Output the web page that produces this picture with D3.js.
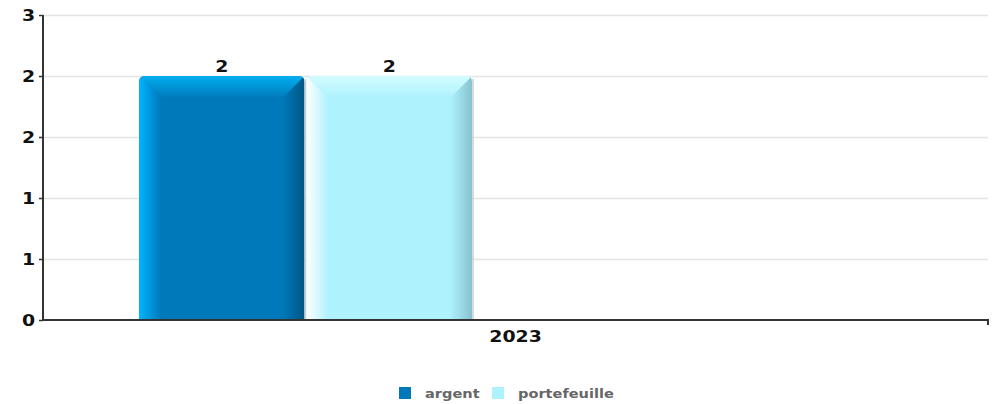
<!DOCTYPE html>
<html>
<head>
<meta charset="utf-8">
<script src="https://cdn.jsdelivr.net/npm/d3@7"></script>
<style>
  html, body { margin: 0; padding: 0; background: #fff; }
  svg { display: block; font-family: "DejaVu Sans", sans-serif; }
</style>
</head>
<body>
<svg id="chart" width="994" height="404"></svg>
<script>
// Data
const categories = ["2023"];
const seriesNames = ["argent", "portefeuille"];
const argent = [2];
const portefeuille = [2];
const yTicks = [0, 0.5, 1, 1.5, 2, 2.5];

const seriesValues = { argent, portefeuille };

// Bar styling: base, light edge, dark edge, top bevel
const palette = {
  argent:       { base: "#0079bb", light: "#00b4ff", dark: "#005683", top: "#00aff0" },
  portefeuille: { base: "#aef2fd", light: "#ffffff", dark: "#86c3cf", top: "#d2fdff" }
};

const svg = d3.select("#chart");
const plot = { left: 43, right: 988, top: 15, bottom: 320 };

const y = d3.scaleLinear().domain([0, 2.5]).range([plot.bottom, plot.top]);
const x0 = d3.scaleBand().domain(categories).range([plot.left, plot.right]);
const x1 = d3.scaleBand().domain(seriesNames).range([139, 472]).paddingInner(0.012);

const fmt = v => String(Math.round(v));

// Widen glyphs horizontally around their anchor x
function stretch(sel, sx) {
  sel.each(function() {
    const t = d3.select(this);
    const x = +t.attr("x") || 0;
    t.attr("transform", `translate(${x * (1 - sx)},0) scale(${sx},1)`);
  });
}

// Gridlines
svg.append("g")
  .selectAll("line")
  .data(yTicks.filter(t => t > 0))
  .join("line")
  .attr("x1", plot.left).attr("x2", plot.right)
  .attr("y1", d => y(d) + 0.5).attr("y2", d => y(d) + 0.5)
  .attr("stroke", "#e4e4e4").attr("stroke-width", 1.5);

// Gradients
const defs = svg.append("defs");
seriesNames.forEach(s => {
  const p = palette[s];
  const gl = defs.append("linearGradient").attr("id", "gl-" + s)
    .attr("x1", 0).attr("x2", 1).attr("y1", 0).attr("y2", 0);
  gl.append("stop").attr("offset", 0).attr("stop-color", p.light);
  gl.append("stop").attr("offset", 1).attr("stop-color", p.base);
  const gr = defs.append("linearGradient").attr("id", "gr-" + s)
    .attr("x1", 0).attr("x2", 1).attr("y1", 0).attr("y2", 0);
  gr.append("stop").attr("offset", 0).attr("stop-color", p.base);
  gr.append("stop").attr("offset", 1).attr("stop-color", p.dark);
  const gt = defs.append("linearGradient").attr("id", "gt-" + s)
    .attr("x1", 0).attr("x2", 0).attr("y1", 0).attr("y2", 1);
  gt.append("stop").attr("offset", 0).attr("stop-color", p.top);
  gt.append("stop").attr("offset", 1).attr("stop-color", p.base);
});

// Bars with bevelled edges
const bev = 22;
const barData = [];
categories.forEach((c, i) => {
  seriesNames.forEach(s => {
    barData.push({ cat: c, series: s, value: seriesValues[s][i] });
  });
});

const bars = svg.append("g").selectAll("g").data(barData).join("g");

bars.each(function(d, i) {
  const g = d3.select(this);
  const xL = x0(d.cat) - plot.left + x1(d.series);
  const w = x1.bandwidth();
  const xR = xL + w;
  const yT = y(d.value);
  const yB = y(0);
  const clipId = "clip-" + i;
  defs.append("clipPath").attr("id", clipId)
    .append("path")
    .attr("d", `M${xL},${yB} L${xL},${yT + 6} Q${xL},${yT} ${xL + 6},${yT} L${xR - 6},${yT} Q${xR},${yT} ${xR},${yT + 6} L${xR},${yB} Z`);
  const inner = g.append("g").attr("clip-path", `url(#${clipId})`);
  inner.append("rect").attr("x", xL).attr("y", yT).attr("width", w).attr("height", yB - yT)
    .attr("fill", palette[d.series].base);
  inner.append("path")
    .attr("d", `M${xL},${yT} L${xL + bev},${yT + bev} L${xL + bev},${yB} L${xL},${yB} Z`)
    .attr("fill", `url(#gl-${d.series})`);
  inner.append("path")
    .attr("d", `M${xR},${yT} L${xR - bev},${yT + bev} L${xR - bev},${yB} L${xR},${yB} Z`)
    .attr("fill", `url(#gr-${d.series})`);
  inner.append("path")
    .attr("d", `M${xL},${yT} L${xR},${yT} L${xR - bev},${yT + bev} L${xL + bev},${yT + bev} Z`)
    .attr("fill", `url(#gt-${d.series})`);
  // faint shadow on the right edge
  g.append("line").attr("x1", xR + 1).attr("x2", xR + 1).attr("y1", yT + 3).attr("y2", yB)
    .attr("stroke", "#cccccc").attr("stroke-width", 1.5);

  g.append("text")
    .attr("x", xL + w / 2).attr("y", yT - 4)
    .attr("text-anchor", "middle")
    .attr("font-weight", "bold").attr("font-size", 16).attr("fill", "#111")
    .text(fmt(d.value))
    .call(stretch, 1.18);
});

// Y axis
const yAxis = svg.append("g").attr("transform", `translate(${plot.left},0)`)
  .call(d3.axisLeft(y).tickValues(yTicks).tickFormat(fmt).tickSize(4).tickPadding(4));
yAxis.select(".domain").attr("stroke", "#333").attr("stroke-width", 2).attr("d", `M0,${plot.top}V${plot.bottom}`);
yAxis.selectAll(".tick line").attr("stroke", "#333").attr("stroke-width", 1.5);
yAxis.selectAll(".tick text").attr("font-family", "DejaVu Sans").attr("font-weight", "bold")
  .attr("font-size", 16).attr("fill", "#111")
  .call(stretch, 1.18);

// X axis
const xAxis = svg.append("g").attr("transform", `translate(0,${plot.bottom})`)
  .call(d3.axisBottom(x0).tickSize(0).tickPadding(11));
xAxis.select(".domain").attr("stroke", "#333").attr("stroke-width", 2)
  .attr("d", `M${plot.left},0H${plot.right}V5`);
xAxis.selectAll(".tick text").attr("font-family", "DejaVu Sans").attr("font-weight", "bold")
  .attr("font-size", 16).attr("fill", "#111")
  .call(stretch, 1.18);

// Legend
const legendItems = [
  { name: "argent", sx: 399, tx: 425 },
  { name: "portefeuille", sx: 492, tx: 518 }
];
const legend = svg.append("g");
legend.selectAll("rect").data(legendItems).join("rect")
  .attr("x", d => d.sx).attr("y", 387).attr("width", 12).attr("height", 12)
  .attr("fill", d => palette[d.name].base);
legend.selectAll("text").data(legendItems).join("text")
  .attr("x", d => d.tx).attr("y", 398)
  .attr("font-weight", "bold").attr("font-size", 13).attr("fill", "#666")
  .text(d => d.name)
  .call(stretch, 1.12);
</script>
</body>
</html>
